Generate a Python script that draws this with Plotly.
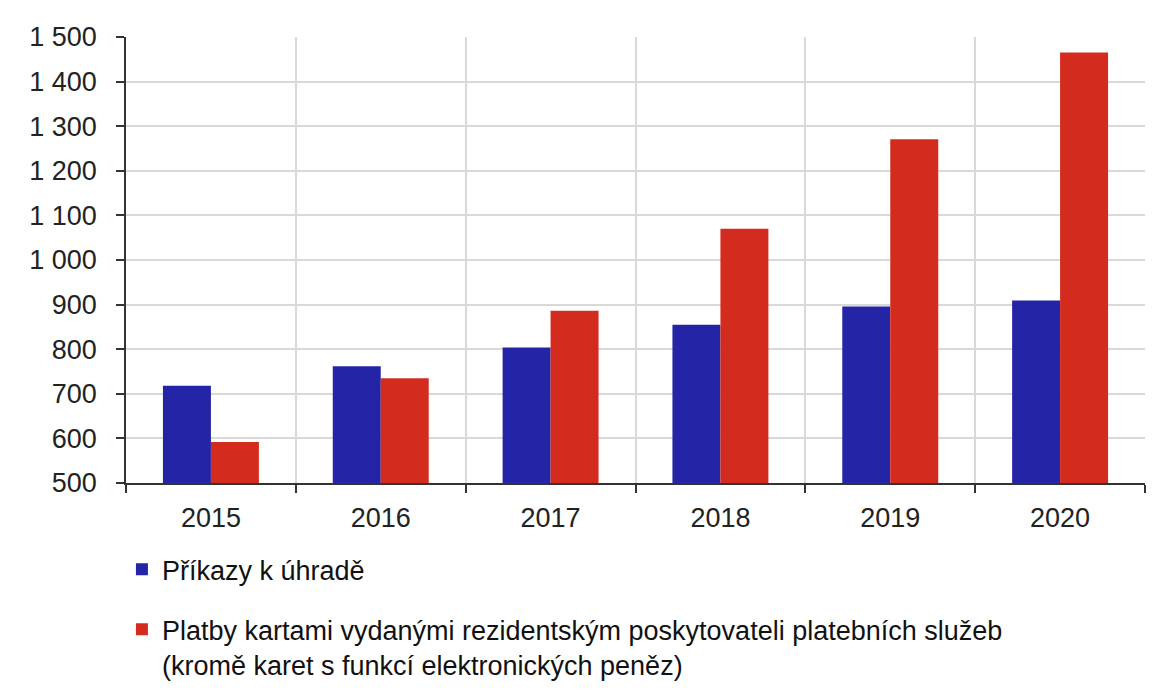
import plotly.graph_objects as go

years = ["2015", "2016", "2017", "2018", "2019", "2020"]
prikazy = [718, 762, 804, 855, 896, 909]
platby = [592, 735, 886, 1070, 1271, 1465]
names = [
    "Příkazy k úhradě",
    "Platby kartami vydanými rezidentským poskytovateli platebních služeb<br>(kromě karet s funkcí elektronických peněz)",
]
colors = ["#2424A6", "#D42B1F"]

fig = go.Figure()
fig.add_trace(go.Bar(x=years, y=prikazy, name=names[0], legendgroup="a",
                     marker=dict(color=colors[0], line=dict(width=0))))
fig.add_trace(go.Bar(x=years, y=platby, name=names[1], legendgroup="b",
                     marker=dict(color=colors[1], line=dict(width=0))))

font = "Liberation Sans, Arial, sans-serif"
fig.update_layout(
    width=1165, height=700,
    margin=dict(l=118, r=28, t=29, b=225),
    paper_bgcolor="white", plot_bgcolor="white",
    barmode="group", bargap=0.435, bargroupgap=0,
    separators=", ",
    font=dict(family=font, size=27, color="#222222"),
    showlegend=True,
    legend=dict(
        orientation="v", x=-0.004, xanchor="left", y=-0.1395, yanchor="top",
        font=dict(family=font, size=27, color="#111111"), valign="top",
        tracegroupgap=22, bgcolor="rgba(0,0,0,0)",
    ),
    xaxis=dict(
        type="category", tickson="boundaries", showgrid=True, gridcolor="#D9D9D9", gridwidth=1.5,
        showline=True, linecolor="#333333", linewidth=1.5,
        ticks="outside", ticklen=8, tickcolor="#333333", tickwidth=1.5,
        tickfont=dict(size=27, color="#222222"), ticklabelstandoff=10,
    ),
    yaxis=dict(
        range=[500, 1500], dtick=100, tick0=500, separatethousands=True,
        showgrid=True, gridcolor="#D9D9D9", gridwidth=1.5,
        showline=True, linecolor="#333333", linewidth=1.5,
        ticks="outside", ticklen=8, tickcolor="#333333", tickwidth=1.5,
        tickfont=dict(size=27, color="#222222"), zeroline=False, ticklabelstandoff=14,
    ),
)

fig.write_html("out.html")
